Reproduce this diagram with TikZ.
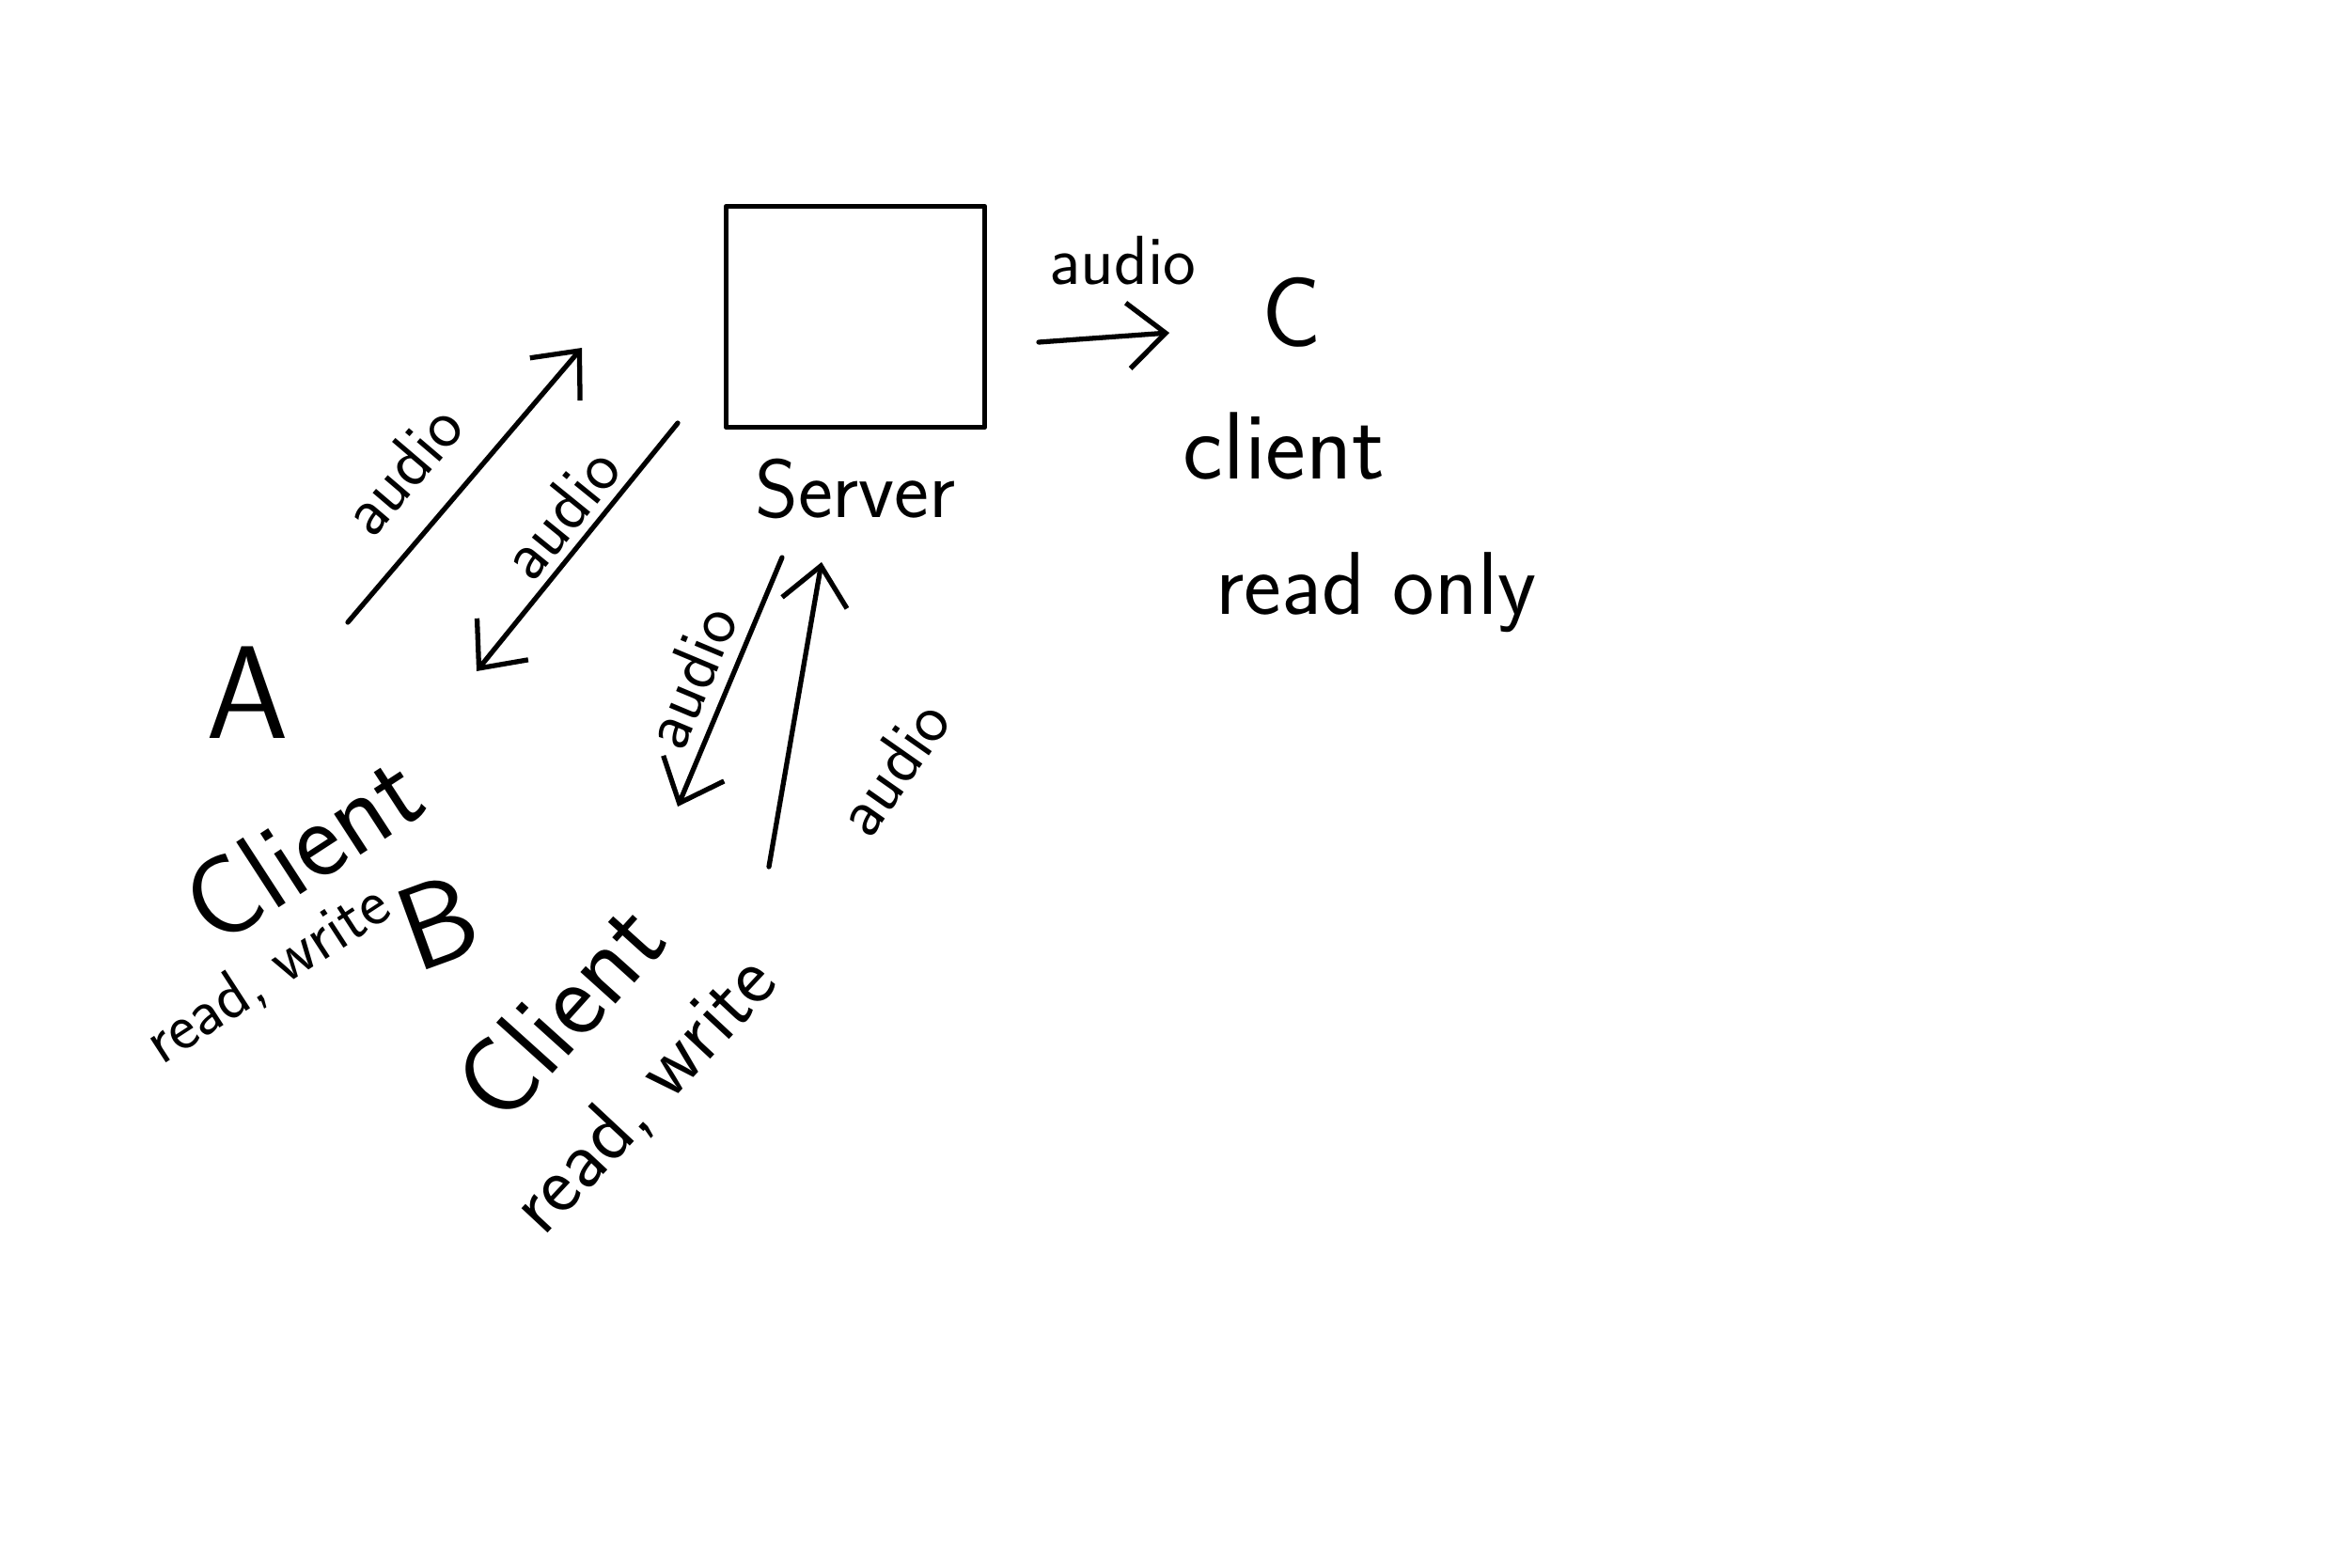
\documentclass[tikz,border=0pt]{standalone}
\usepackage{tikz}
\usetikzlibrary{positioning, arrows.meta}

\begin{document}
\begin{tikzpicture}[
		font=\sffamily,
		pen/.style={line width=1.5pt, line cap=round, line join=round},
		audio arrow/.style={pen, -{Straight Barb[length=4mm, width=7mm]}},
		audio label/.style={font=\sffamily\fontsize{21}{24}\selectfont, inner sep=1pt},
		big letter/.style={font=\sffamily\fontsize{#1}{#1}\selectfont, inner sep=0pt},
		big letter/.default=36
	]
	
	\useasboundingbox (0,0) rectangle (25,16.67);
	
	% server
	\node[pen, draw, minimum width=2.75cm, minimum height=2.35cm] (server) at (9.1,13.3) {};
	\node[big letter=25, below=3mm of server] (serverlabel) {Server};
	
	% client C
	\node[big letter=30] (C) at (13.74,13.35) {C};
	\node[big letter=29] (clientC) at (13.66,11.92) {client};
	\node[big letter=27] (readC) at (14.64,10.37) {read only};
	
	% client A
	\node[big letter=40] (A) at (2.63,9.30) {A};
	\node[big letter=34, rotate=33] (clientA) at (3.22,7.66) {Client};
	\node[big letter=20, rotate=33] (readA) at (2.85,6.30) {read, write};
	
	% client B
	\node[big letter=36, rotate=20] (B) at (4.66,6.86) {B};
	\node[big letter=33, rotate=48] (clientB) at (5.95,5.92) {Client};
	\node[big letter=25, rotate=47] (readB) at (6.86,5.02) {read, write};
	
	% arrow ends
	\coordinate (toC1) at (11.05,13.03);
	\coordinate (toC2) at (12.44,13.13);
	\coordinate (fromA1) at (3.70,10.05);
	\coordinate (fromA2) at (6.19,12.97);
	\coordinate (toA1) at (7.21,12.17);
	\coordinate (toA2) at (5.07,9.53);
	\coordinate (toB1) at (8.32,10.74);
	\coordinate (toB2) at (7.21,8.09);
	\coordinate (fromB1) at (8.18,7.45);
	\coordinate (fromB2) at (8.74,10.69);
	
	\draw[audio arrow] (toC1) -- node[audio label, above=5mm, xshift=2mm] (lblC) {audio} (toC2);
	\draw[audio arrow] (fromA1) -- node[audio label, sloped, above=3mm, pos=0.42] (lblfromA) {audio} (fromA2);
	\draw[audio arrow] (toA1) -- node[audio label, sloped, above=0.5mm, pos=0.45] (lbltoA) {audio} (toA2);
	\draw[audio arrow] (toB1) -- node[audio label, sloped, above=1mm, pos=0.54] (lbltoB) {audio} (toB2);
	\draw[audio arrow] (fromB1) -- (fromB2);
	\node[audio label, rotate=55] (lblfromB) at (9.49,8.51) {audio};
	
\end{tikzpicture}
\end{document}
